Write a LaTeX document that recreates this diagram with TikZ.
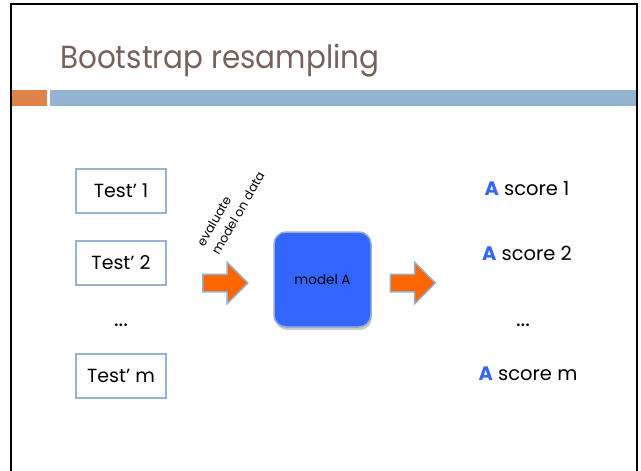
\documentclass[tikz,border=0pt]{standalone}
\usepackage{fontspec}
\setmainfont{Poppins}
\newfontfamily\titlefont[FakeStretch=0.92]{Poppins}
\usepackage{tikz}
\usetikzlibrary{shapes,arrows,shadows}
\usetikzlibrary{positioning}
\definecolor{titlebrown}{RGB}{118,98,90}
\definecolor{barorange}{RGB}{224,131,75}
\definecolor{barblue}{RGB}{148,179,208}
\definecolor{boxblue}{RGB}{150,180,210}
\definecolor{modelblue}{RGB}{51,102,255}
\definecolor{arroworange}{RGB}{255,102,0}
\definecolor{arrowedge}{RGB}{150,175,205}
\tikzset{testbox/.style={draw=boxblue, line width=2pt, minimum width=90pt,
    minimum height=44pt, font=\fontsize{19}{22}\selectfont},
fatarrow/.style={single arrow, draw=arrowedge, fill=arroworange, line width=1.5pt,
    inner xsep=0pt, inner ysep=8pt, minimum height=45pt,
    single arrow head extend=12pt, single arrow head indent=0pt},
score/.style={font=\fontsize{19.5}{22}\selectfont},
dots/.style={font=\fontsize{22}{24}\selectfont}
}

\begin{document}
\begin{tikzpicture}[x=1pt, y=-1pt, node distance=71.5pt, on grid]
      \useasboundingbox (0,0) rectangle (641,471);
      % frame and header bars
      \draw[line width=2.5pt] (11,471) -- (11,4) -- (637,4) -- (637,471);
      \fill[barorange] (12,90) rectangle (47,106);
      \fill[barblue]   (50,90) rectangle (636,106);
      \node[anchor=base west, inner sep=0pt, text=titlebrown,
            font=\titlefont\fontsize{32}{38}\selectfont] (title) at (60,68) {Bootstrap resampling};

      \node[testbox]          (test1) at (121,191)           {Test’ 1};
      \node[testbox]          (test2) [below=of test1]       {Test’ 2};
      \node[dots]             (tdots) [below=63pt of test2]  {...};
      \node[testbox]          (testm) [below=50pt of tdots]  {Test’ m};

      \node[draw=arrowedge, line width=1.5pt, fill=modelblue, rounded corners=12pt,
            minimum width=97pt, minimum height=95pt, font=\fontsize{13.5}{16}\selectfont,
            drop shadow={shadow xshift=1pt, shadow yshift=-3pt, opacity=0.4}]
                              (model) at (322.5,279.5)       {model A};
      \node[fatarrow]         (arrow1) at (221,283)          {};
      \node[fatarrow]         (arrow2) at (408.5,283)        {};
      \node[rotate=60, anchor=south west, align=left, inner sep=0pt,
            font=\fontsize{12.5}{17}\selectfont]
                              (evallabel) at (219,256)       {evaluate\\model on data};

      \node[score]            (score1) at (527,189)          {\textcolor{modelblue}{\textbf{A}} score 1};
      \node[score]            (score2) [below=64pt of score1] {\textcolor{modelblue}{\textbf{A}} score 2};
      \node[dots]             (sdots) at (523,325)           {...};
      \node[score]            (scorem) at (528,374)          {\textcolor{modelblue}{\textbf{A}} score m};
\end{tikzpicture}
\end{document}
